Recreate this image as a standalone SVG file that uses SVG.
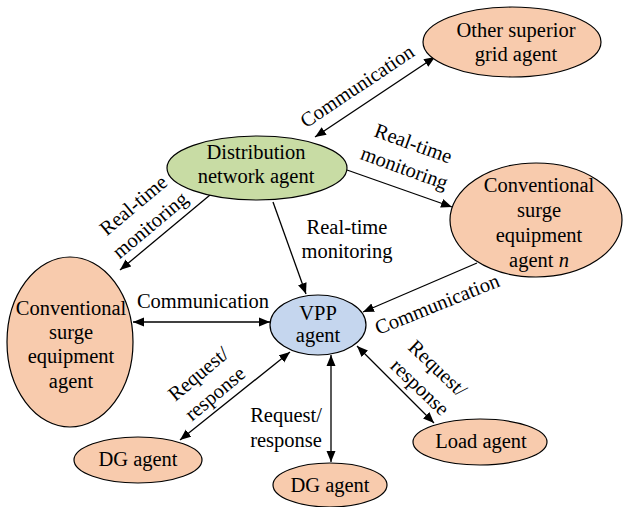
<svg xmlns="http://www.w3.org/2000/svg" width="623" height="507" viewBox="0 0 623 507">
<style>
text{font-family:"Liberation Serif","Times New Roman",serif;font-size:20.5px;fill:#000;text-anchor:middle}
.o{fill:#F8CBAD;stroke:#000;stroke-width:1.2}
.g{fill:#C8DCA4;stroke:#000;stroke-width:1.2}
.b{fill:#C5D6EE;stroke:#000;stroke-width:1.2}
.c line{stroke:#000;stroke-width:1.3}
.a1{marker-end:url(#ah)}
.a2{marker-start:url(#ah);marker-end:url(#ah)}
</style>
<defs>
<marker id="ah" markerUnits="userSpaceOnUse" markerWidth="12" markerHeight="10" refX="11" refY="5" orient="auto-start-reverse" viewBox="0 0 12 10">
<path d="M0,0.5 L11,5 L0,9.5 Z" fill="#000"/>
</marker>
</defs>
<g id="connectors" class="c">
<line class="a2" x1="435" y1="57" x2="315" y2="137"/>
<line class="a1" x1="347" y1="170" x2="452" y2="207"/>
<line class="a1" x1="210" y1="195" x2="120" y2="270"/>
<line class="a1" x1="273" y1="202" x2="306" y2="294"/>
<line class="a2" x1="133" y1="322" x2="270" y2="322"/>
<line class="a1" x1="477" y1="263" x2="363" y2="312"/>
<line class="a2" x1="290" y1="352" x2="180" y2="440"/>
<line class="a2" x1="331" y1="355" x2="331" y2="462"/>
<line class="a2" x1="357" y1="346" x2="434" y2="423"/>
</g>
<g id="labels">
<g transform="translate(357,86) rotate(-33.7)"><text y="7">Communication</text></g>
<g transform="translate(409,155.5) rotate(20)"><text y="-6">Real-time</text><text y="20">monitoring</text></g>
<g transform="translate(141.5,215) rotate(-40)"><text y="-6">Real-time</text><text y="20">monitoring</text></g>
<text x="347" y="234">Real-time</text><text x="347" y="258">monitoring</text>
<text x="203" y="308">Communication</text>
<g transform="translate(437,304) rotate(-21.8)"><text y="7">Communication</text></g>
<g transform="translate(206.5,383.5) rotate(-40)"><text y="-6">Request/</text><text y="20">response</text></g>
<text x="286" y="422">Request/</text><text x="286" y="447">response</text>
<g transform="translate(429,377.5) rotate(43.5)"><text y="-6">Request/</text><text y="20">response</text></g>
</g>
<g id="other-superior"><ellipse class="o" cx="512" cy="42" rx="89" ry="35"/><text x="516" y="37">Other superior</text><text x="516" y="61">grid agent</text></g>
<g id="distribution"><ellipse class="g" cx="257" cy="168" rx="90" ry="32"/><text x="256" y="159">Distribution</text><text x="256" y="183">network agent</text></g>
<g id="conv-n"><ellipse class="o" cx="536" cy="220" rx="86" ry="57"/><text x="539" y="192">Conventional</text><text x="539" y="217">surge</text><text x="539" y="242">equipment</text><text x="539" y="267">agent <tspan font-style="italic">n</tspan></text></g>
<g id="conv"><ellipse class="o" cx="70" cy="342" rx="63" ry="85"/><text x="71" y="315">Conventional</text><text x="71" y="339">surge</text><text x="71" y="363">equipment</text><text x="71" y="388">agent</text></g>
<g id="vpp"><ellipse class="b" cx="318" cy="325" rx="48" ry="30"/><text x="318" y="320">VPP</text><text x="318" y="342">agent</text></g>
<g id="dg-left"><ellipse class="o" cx="138" cy="460" rx="64" ry="23"/><text x="138" y="466">DG agent</text></g>
<g id="dg-bottom"><ellipse class="o" cx="330" cy="485" rx="57" ry="22"/><text x="330" y="492">DG agent</text></g>
<g id="load"><ellipse class="o" cx="480" cy="442" rx="67" ry="23"/><text x="481" y="448">Load agent</text></g>
</svg>
